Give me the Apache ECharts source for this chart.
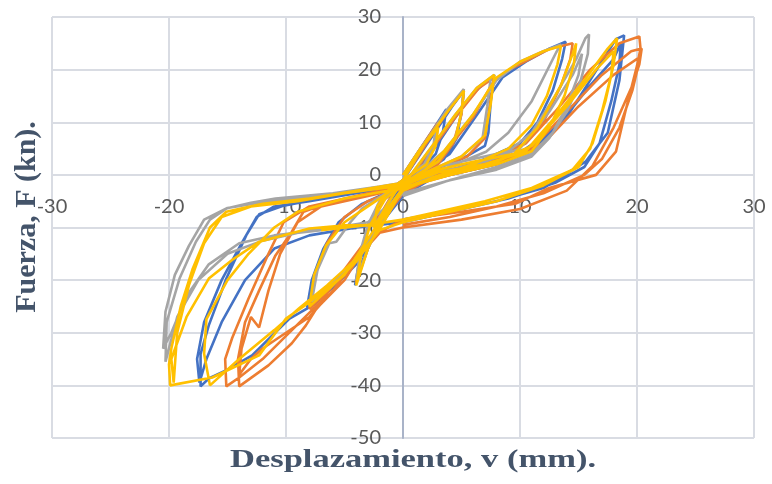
<!DOCTYPE html>
<html>
<head>
<meta charset="utf-8">
<title>Fuerza vs Desplazamiento</title>
<script src="https://cdn.jsdelivr.net/npm/echarts@6/dist/echarts.min.js"></script>
<style>
  html, body { margin: 0; padding: 0; background: #fff; }
  #chart { width: 772px; height: 484px; }
</style>
</head>
<body>
<div id="chart"></div>
<script>
  // ticks
  const xTicks = { min: -30, max: 30, step: 10 };
  const yTicks = { min: -50, max: 30, step: 10 };

  // curvas de histéresis [desplazamiento mm, fuerza kN]
  const blueLoop = [
    [0,0],[1.2,4],[2.4,8],[3.7,12.5],[3.4,8],[2.8,4],[1.5,1],[0,-1.5],[-1.2,-5],[-2.4,-9.5],[-2.2,-6],[-1.5,-3.5],[0,-1],
    [1.5,4],[3,9],[4.2,13],[5.2,16],[5,12],[4.6,7],[3.5,3],[1.5,0],[0,-2],[-1.5,-7],[-2.8,-13],[-3.8,-18],[-4.1,-21],[-3.7,-16],[-3,-10],[-2,-5.5],[-0.5,-2.5],[1,0],
    [3,6],[4.5,11],[6,15.5],[7,17.5],[7.8,19],[7.5,14],[7.3,8],[7,5.5],[5,3],[2,0.5],[0,-3],[-2,-10],[-4,-17],[-6,-21.5],[-8.2,-25.2],[-7.8,-20],[-6.8,-14],[-5.5,-9],[-3.5,-5.5],[-1,-3],[1,-0.5],
    [4,4],[6.5,12],[8.5,18.5],[10.5,21.5],[12.5,24],[13.9,25.3],[13.6,22],[12.8,16],[11.5,10],[10,6],[7,3],[3,0],[0,-4],[-2.5,-11],[-5,-19],[-7.5,-24.5],[-9.7,-27.3],[-12.9,-34.3],[-15,-37],[-16.6,-38.7],[-17.3,-40.2],[-17.3,-34],[-16.6,-28.6],[-15.1,-19.7],[-13.4,-11.5],[-12.3,-7.5],[-10.3,-5.9],[-7,-4.5],[-3,-3],[0,-1.5],
    [4,0.5],[8,2.5],[10.5,5],[12.5,8],[14,11],[16,18],[18.2,25.8],[18.9,26.5],[18.5,18],[17.5,8],[15.6,2.5],[12,-2.5],[8,-5],[4,-7],[0,-9],[-4,-10],[-8,-11.5],[-11,-14],[-13.5,-20],[-15.5,-28],[-16.8,-35],[-17.4,-39.5],[-17.6,-35],[-17,-28],[-15.5,-20],[-13.8,-13],[-12.5,-8],[-11,-6],[-8,-5],[-4,-3.5],[0,-2],
    [4,0],[8,2],[11,4.5],[13.5,10],[16,17],[18,22],[18.6,25],[18.5,21],[17.8,14],[16.8,6],[15.5,1.5],[13,-1.5],[9,-4.5],[5,-6.5],[0,-8.5]
  ];

  const orangeLoop = [
    [0,0],[1.5,5],[3,10],[2.8,6],[2,2.5],[0.5,-0.5],[-1,-4],[-2.3,-9],[-2,-5.5],[-1,-2.5],[0,-1],
    [2,6],[3.8,12],[5.2,16],[5,11.5],[4.3,6],[3,2],[0.5,-1],[-1.5,-7],[-3,-14],[-4,-20.5],[-3.6,-15],[-2.8,-9],[-1.5,-4],[0,-2],
    [2.5,5],[4.5,11],[6.5,16.5],[7.8,18.5],[7.4,13],[7,7],[5.5,3.5],[2.5,1],[0,-3],[-2,-10],[-4,-16],[-6,-21],[-8,-25.5],[-7.5,-19],[-6.5,-13],[-5,-8],[-3,-5],[0,-2.5],
    [3.5,4],[6,11],[7.8,18],[9.1,20],[12.5,23.9],[14.5,25],[14.3,22],[13.5,17],[12,10],[10.5,6],[7,2.5],[3,0],[0,-3.5],[-2.5,-11],[-5,-20],[-7.4,-25.4],[-8.3,-28.6],[-9.5,-32],[-11.5,-36.2],[-14,-40.2],[-14.1,-35],[-13.5,-28],[-12.3,-22],[-10.9,-15.3],[-9.5,-10.8],[-8.5,-7],[-6,-5],[-3,-3.5],[0,-2],
    [4,1],[8,3],[10.5,6],[13,12],[16,20],[18.5,25],[20.2,26.3],[20.3,24],[20,20.7],[19,12],[18.2,4.4],[16.5,0],[12.5,-2.5],[9.6,-5.5],[5,-7],[0,-8.5],[-3,-12],[-5,-18],[-7,-24],[-9.5,-29.5],[-12,-35],[-14,-38.5],[-15.1,-40.2],[-15.2,-35],[-14.6,-31],[-13.2,-23.5],[-11.5,-15],[-10.2,-9],[-8,-6],[-4,-4],[0,-2.5],
    [4,0],[8,2],[11,5],[14,12],[17,19],[19.5,23.5],[20.4,24],[20.2,21],[19.6,17],[18,9],[16.2,1.7],[14,-3],[10,-6.5],[5,-8.5],[0,-10],[-2,-11],[-4,-16],[-6,-22],[-8,-27],[-10,-30],[-12,-33],[-13,-35],[-14,-38],[-13.8,-33],[-13,-27],[-12.3,-29],[-11.5,-22],[-10.5,-15],[-9,-9],[-7,-6],[-3,-4],[0,-2.5],
    [4,0.5],[8,2.5],[12,6],[15,13],[18,19],[20.3,22.5],[19.6,16],[18.5,9],[17,3],[15.5,0],[12,-3.5],[8,-6],[4,-8],[0,-9.5]
  ];

  const grayLoop = [
    [0,0],[1.5,5],[2.8,9],[2.6,5.5],[1.8,2],[0,-1],[-1.2,-5],[-2.5,-10],[-2.2,-6],[-1.2,-3],[0,-1],
    [2,6.5],[3.8,12.5],[5.2,16.3],[5,12],[4.5,7],[3,2.5],[0.5,-1],[-1.5,-7],[-3,-14],[-4,-20],[-3.7,-15],[-3,-9.5],[-2,-5],[0,-2],
    [2.5,5.5],[4.5,11.5],[6.3,16.5],[7.5,18.5],[7.2,13],[6.8,7],[5,3.5],[2,0.5],[0,-2.5],[-2,-9.5],[-4,-16],[-6,-20.5],[-7.8,-24],[-7.3,-18],[-6.3,-13],[-5.7,-12.7],[-4.5,-9],[-3.5,-6.4],[-1.5,-3.5],[0,-2],
    [3.5,4.5],[6,11.5],[8,18],[10,21.5],[12,23.5],[13.5,24.8],[13.1,23.3],[11,14],[9,8],[7.1,4.4],[5,2.5],[2.5,0],[0,-3],[-2.5,-9.5],[-5,-10],[-8,-10.5],[-12,-12.5],[-15,-15],[-17.5,-20],[-19.3,-27],[-20.3,-35.5],[-20.2,-28],[-19.1,-19.7],[-17.7,-12.7],[-16.5,-8.5],[-15.1,-6.4],[-13,-5.3],[-10.9,-4.5],[-6,-3.5],[-2,-2.2],[0,-1.5],
    [3,1.5],[6,3],[9,4.5],[11,8],[13,15],[14.8,22],[15.6,26],[15.9,26.7],[15.8,23],[15.2,18],[14,12],[12.5,7],[11,3.5],[8,1],[4,-1],[0,-3.5],[-3,-9],[-7,-10.5],[-11,-11.5],[-14,-13],[-16.6,-17],[-18.5,-23],[-19.8,-30],[-20.5,-33],[-20.3,-26],[-19.5,-19],[-18.3,-13.5],[-17,-8.5],[-15,-6.3],[-12,-5.2],[-8,-4.2],[-4,-3],[0,-1.5],
    [3,0.5],[7,2.5],[10,5],[12.5,12],[14.5,19],[15.3,23],[15,19],[14,13],[12.8,8],[11,4],[8,1.5],[4,-1],[0,-4]
  ];

  const yellowLoop = [
    [0,0],[1.5,5],[3,9],[2.8,5.5],[2,2],[0,-1],[-1.3,-5.5],[-2.5,-10],[-2.2,-6],[-1.3,-3],[0,-1],
    [2,6.5],[3.8,12],[5.2,16],[5,12],[4.5,7],[3,2.5],[0.5,-1],[-1.5,-7],[-3,-14],[-4,-21],[-3.6,-15.5],[-2.8,-9.5],[-1.5,-4.5],[0,-2],
    [2.5,5.5],[4.5,11.5],[6.3,16.5],[7.8,19],[7.5,13.5],[7,7.5],[5,3.5],[2,0.5],[0,-2.5],[-1.8,-9.6],[-4,-16.5],[-6,-21],[-8,-25],[-7.6,-19],[-6.6,-13.5],[-5,-9],[-3,-6],[-1,-3],[1,-1],
    [3.5,4.5],[6,11.5],[8,18.5],[10,21.5],[12,23.5],[13.5,24.5],[13.2,21],[12.3,15],[11,9.5],[9,5],[6,2],[2.5,-0.5],[0,-3],[-2.5,-10.5],[-5,-19],[-8.5,-25],[-10,-27.3],[-12.3,-34.3],[-16.3,-38.5],[-19.9,-40],[-20,-36],[-19.8,-33],[-19,-25],[-18,-18],[-16.5,-10],[-15.1,-7],[-12,-5.5],[-8,-4.5],[-4,-3],[0,-1.5],
    [3,1],[6,2.5],[9.5,4],[11.5,9],[13.5,17],[14.5,23],[14.8,25],[14.6,21],[13.8,15],[12.5,9],[11,4.5],[8,2],[4,0],[0,-2.5],[-1.8,-9.6],[-4.9,-9.6],[-8,-10.2],[-12.3,-12.7],[-14.5,-16],[-16.6,-19.7],[-18.5,-27],[-19.8,-35],[-19.6,-39.5],[-19.3,-30],[-18.3,-21],[-17,-13],[-15.5,-8],[-13,-6],[-9,-5],[-5,-3.5],[0,-2],
    [3,0.5],[7,2],[10.5,4.5],[13,11],[15.5,18],[17.5,24],[18.3,26],[18,21],[17.3,14],[16.2,6],[15,1.5],[12,-2],[8,-5],[4,-7],[0,-9],[-2,-10.5],[-4,-16],[-6.5,-21],[-8.9,-25.4],[-11,-29.5],[-14,-35],[-16.5,-40],[-17,-34],[-16.8,-27.4],[-15,-20],[-13.2,-15],[-11,-10],[-9,-7],[-5,-4.5],[0,-2.5],
    [4,0.5],[8,2.5],[11,5.5],[14,13],[16.5,20],[18,23.5],[17.8,19],[17,12],[16,5],[14.5,1],[11,-2.5],[7,-5],[3,-7],[0,-8.5],[-3,-9.5],[-7,-10.5]
  ];

  const seriesList = [
    { data: blueLoop, color: '#4472C4' },
    { data: orangeLoop, color: '#ED7D31' },
    { data: grayLoop, color: '#A5A5A5' },
    { data: yellowLoop, color: '#FFC000' }
  ];

  const chart = echarts.init(document.getElementById('chart'));

  const gridBox = { left: 52, right: 18, top: 17, bottom: 46 };
  const plotW = 772 - gridBox.left - gridBox.right;
  const plotH = 484 - gridBox.top - gridBox.bottom;
  // los ejes se cruzan en (0, 0): se desplazan hacia dentro de la rejilla
  const yAxisOffset = -plotW * (0 - xTicks.min) / (xTicks.max - xTicks.min);
  const xAxisOffset = -plotH * (0 - yTicks.min) / (yTicks.max - yTicks.min);

  const labelStyle = {
    color: '#595959',
    fontSize: 20,
    fontFamily: 'Lato',
    margin: 22
  };
  const gridLine = { lineStyle: { color: '#D9DCE3', width: 2 } };

  const option = {
    animation: false,
    backgroundColor: '#fff',
    grid: Object.assign({ containLabel: false }, gridBox),
    xAxis: {
      type: 'value',
      position: 'bottom',
      offset: xAxisOffset,
      min: xTicks.min,
      max: xTicks.max,
      interval: xTicks.step,
      axisLine: { show: false, onZero: false },
      axisTick: { show: false },
      axisLabel: labelStyle,
      splitLine: gridLine
    },
    yAxis: {
      type: 'value',
      position: 'left',
      offset: yAxisOffset,
      min: yTicks.min,
      max: yTicks.max,
      interval: yTicks.step,
      axisLine: { show: true, onZero: false, lineStyle: { color: '#A9B3C8', width: 2 } },
      axisTick: { show: false },
      axisLabel: labelStyle,
      splitLine: gridLine
    },
    graphic: [
      {
        type: 'text',
        x: 413, y: 461,
        scaleX: 1.38,
        style: {
          text: 'Desplazamiento, v (mm).',
          font: 'bold 25px "Liberation Serif"',
          fill: '#44546A',
          textAlign: 'center', textVerticalAlign: 'middle',
          align: 'center', verticalAlign: 'middle'
        }
      },
      {
        type: 'text',
        x: 27, y: 217,
        rotation: Math.PI / 2,
        style: {
          text: 'Fuerza, F (kn).',
          font: 'bold 30px "Liberation Serif"',
          fill: '#44546A',
          textAlign: 'center', textVerticalAlign: 'middle',
          align: 'center', verticalAlign: 'middle'
        }
      }
    ],
    series: seriesList.map((s) => ({
      type: 'line',
      data: s.data,
      showSymbol: false,
      symbol: 'none',
      lineStyle: { color: s.color, width: 2.6 },
      itemStyle: { color: s.color }
    }))
  };

  chart.setOption(option);
</script>
</body>
</html>
